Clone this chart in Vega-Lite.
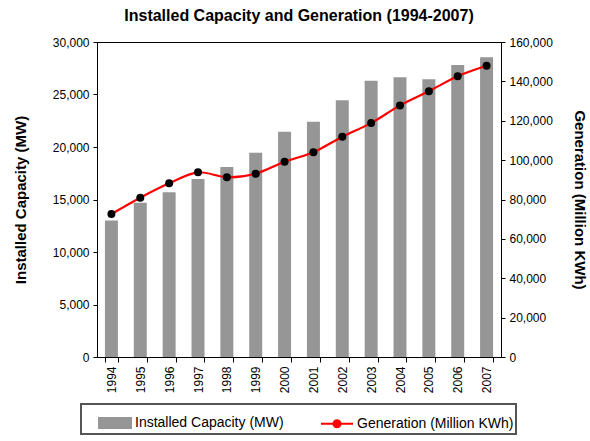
{
  "$schema": "https://vega.github.io/schema/vega-lite/v6.json",
  "width": 404,
  "height": 315,
  "autosize": {"type": "none"},
  "padding": {"left": 97, "top": 42, "right": 89, "bottom": 84},
  "title": {
    "text": "Installed Capacity and Generation (1994-2007)",
    "fontSize": 16,
    "font": "Liberation Sans",
    "fontWeight": "bold",
    "color": "black",
    "anchor": "middle",
    "offset": 12
  },
  "config": {
    "view": {"stroke": "black", "strokeWidth": 1},
    "font": "Liberation Sans",
    "axis": {
      "grid": false,
      "domainColor": "black",
      "tickColor": "black",
      "labelColor": "black",
      "titleColor": "black",
      "labelFont": "Liberation Sans",
      "titleFont": "Liberation Sans",
      "labelFontSize": 12,
      "titleFontSize": 15,
      "titleFontWeight": "bold",
      "tickSize": 4,
      "labelPadding": 4
    }
  },
  "data": {
    "values": [
      {"year": "1994", "capacity": 13000, "generation": 72600},
      {"year": "1995", "capacity": 14700, "generation": 80900},
      {"year": "1996", "capacity": 15700, "generation": 88200},
      {"year": "1997", "capacity": 16950, "generation": 93800},
      {"year": "1998", "capacity": 18100, "generation": 91300},
      {"year": "1999", "capacity": 19450, "generation": 93100},
      {"year": "2000", "capacity": 21450, "generation": 99200},
      {"year": "2001", "capacity": 22400, "generation": 104000},
      {"year": "2002", "capacity": 24450, "generation": 111900},
      {"year": "2003", "capacity": 26300, "generation": 118800},
      {"year": "2004", "capacity": 26650, "generation": 127800},
      {"year": "2005", "capacity": 26450, "generation": 135000},
      {"year": "2006", "capacity": 27800, "generation": 142600},
      {"year": "2007", "capacity": 28550, "generation": 147900}
    ]
  },
  "encoding": {
    "x": {
      "field": "year",
      "type": "nominal",
      "scale": {"paddingInner": 0.55, "paddingOuter": 0.275},
      "axis": {
        "title": null,
        "labelAngle": -90,
        "tickBand": "extent",
        "tickSize": 5
      }
    }
  },
  "layer": [
    {
      "mark": {"type": "bar", "opacity": 1},
      "encoding": {
        "y": {
          "field": "capacity",
          "type": "quantitative",
          "scale": {"domain": [0, 30000], "nice": false},
          "axis": {
            "title": "Installed Capacity (MW)",
            "values": [0, 5000, 10000, 15000, 20000, 25000, 30000],
            "format": ",.0f",
            "titlePadding": 24
          }
        },
        "color": {
          "datum": "Installed Capacity (MW)",
          "type": "nominal",
          "scale": {
            "domain": ["Installed Capacity (MW)", "Generation (Million KWh)"],
            "range": ["#969696", "#ff0000"]
          },
          "legend": {
            "orient": "none",
            "legendX": -16,
            "legendY": 362,
            "direction": "horizontal",
            "columns": 2,
            "title": " ",
            "titleOrient": "left",
            "titlePadding": 15,
            "titleFontSize": 13,
            "padding": 2,
            "labelFontSize": 14,
            "labelFont": "Liberation Sans",
            "labelColor": "black",
            "labelLimit": 300,
            "labelOffset": 3,
            "symbolSize": 1024,
            "columnPadding": 33,
            "encode": {
              "legend": {"update": {"stroke": {"value": "#555555"}, "strokeWidth": {"value": 2}}},
              "symbols": {
                "update": {
                  "shape": {"signal": "datum.value === 'Installed Capacity (MW)' ? 'M-1,-0.3125H1V0.3125H-1Z' : 'M-1,0H1M0.22,0A0.22,0.22,0,1,1,-0.22,0A0.22,0.22,0,1,1,0.22,0'"},
                  "fill": {"signal": "datum.value === 'Installed Capacity (MW)' ? '#969696' : 'black'"},
                  "stroke": {"signal": "datum.value === 'Installed Capacity (MW)' ? 'transparent' : '#ff0000'"},
                  "strokeWidth": {"value": 2},
                  "size": {"value": 1024},
                  "opacity": {"value": 1},
                  "fillOpacity": {"value": 1},
                  "strokeOpacity": {"value": 1}
                }
              }
            }
          }
        }
      }
    },
    {
      "mark": {"type": "line", "interpolate": "catmull-rom", "strokeWidth": 2.2},
      "encoding": {
        "y": {
          "field": "generation",
          "type": "quantitative",
          "scale": {"domain": [0, 160000], "nice": false},
          "axis": {
            "orient": "right",
            "title": "Generation (Million KWh)",
            "values": [0, 20000, 40000, 60000, 80000, 100000, 120000, 140000, 160000],
            "format": ",.0f",
            "titlePadding": 19
          }
        },
        "color": {
          "datum": "Generation (Million KWh)",
          "type": "nominal",
          "legend": {
            "orient": "none",
            "legendX": -16,
            "legendY": 362,
            "direction": "horizontal",
            "columns": 2,
            "title": " ",
            "titleOrient": "left",
            "titlePadding": 15,
            "titleFontSize": 13,
            "padding": 2,
            "labelFontSize": 14,
            "labelFont": "Liberation Sans",
            "labelColor": "black",
            "labelLimit": 300,
            "labelOffset": 3,
            "symbolSize": 1024,
            "columnPadding": 33,
            "encode": {
              "legend": {"update": {"stroke": {"value": "#555555"}, "strokeWidth": {"value": 2}}},
              "symbols": {
                "update": {
                  "shape": {"signal": "datum.value === 'Installed Capacity (MW)' ? 'M-1,-0.3125H1V0.3125H-1Z' : 'M-1,0H1M0.22,0A0.22,0.22,0,1,1,-0.22,0A0.22,0.22,0,1,1,0.22,0'"},
                  "fill": {"signal": "datum.value === 'Installed Capacity (MW)' ? '#969696' : 'black'"},
                  "stroke": {"signal": "datum.value === 'Installed Capacity (MW)' ? 'transparent' : '#ff0000'"},
                  "strokeWidth": {"value": 2},
                  "size": {"value": 1024},
                  "opacity": {"value": 1},
                  "fillOpacity": {"value": 1},
                  "strokeOpacity": {"value": 1}
                }
              }
            }
          }
        }
      }
    },
    {
      "mark": {"type": "point", "filled": true, "color": "black", "size": 64, "opacity": 1},
      "encoding": {
        "y": {
          "field": "generation",
          "type": "quantitative",
          "scale": {"domain": [0, 160000], "nice": false},
          "axis": null
        }
      }
    }
  ],
  "resolve": {"scale": {"y": "independent"}}
}
